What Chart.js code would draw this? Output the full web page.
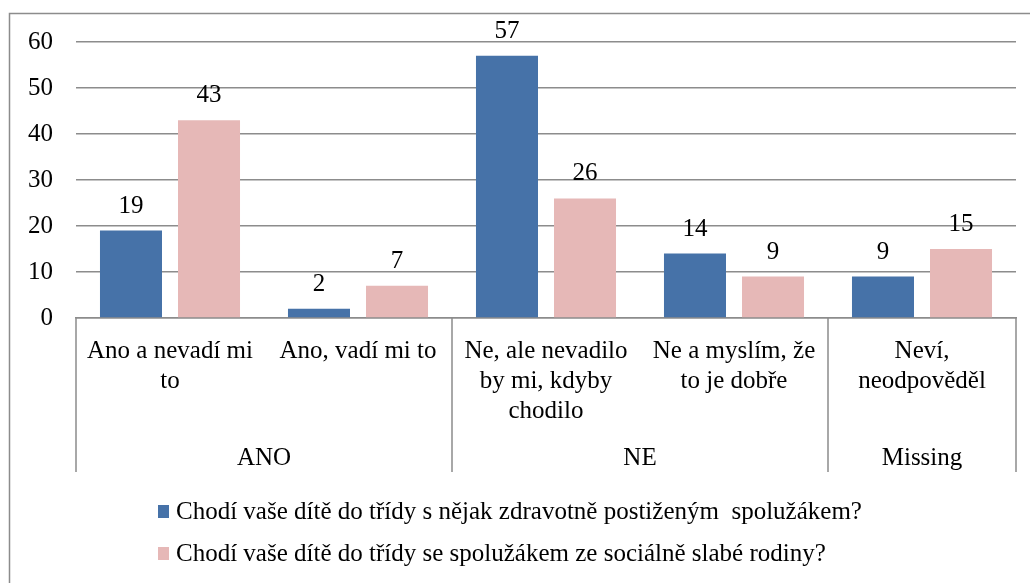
<!DOCTYPE html>
<html lang="cs">
<head>
<meta charset="utf-8">
<script src="https://cdn.jsdelivr.net/npm/chart.js@4"></script>
<style>
  html, body { margin: 0; padding: 0; background: #fff; }
  #wrap { width: 1030px; height: 583px; }
</style>
</head>
<body>
<div id="wrap"><canvas id="chart" width="1030" height="583"></canvas></div>
<script>
    /* ── Data ─────────────────────────────────────────── */
    const categories = [
        ['Ano a nevadí mi', 'to'],
        ['Ano, vadí mi to'],
        ['Ne, ale nevadilo', 'by mi, kdyby', 'chodilo'],
        ['Ne a myslím, že', 'to je dobře'],
        ['Neví,', 'neodpověděl']
    ];
    const groups      = ['ANO', 'NE', 'Missing'];
    const groupSizes  = [2, 2, 1];
    const seriesNames = [
        'Chodí vaše dítě do třídy s nějak zdravotně postiženým  spolužákem?',
        'Chodí vaše dítě do třídy se spolužákem ze sociálně slabé rodiny?'
    ];
    const healthValues = [19, 2, 57, 14, 9];
    const socialValues = [43, 7, 26, 9, 15];
    const yTicks       = [0, 10, 20, 30, 40, 50, 60];

    const FONT   = '"Liberation Serif", "Times New Roman", Tinos, "DejaVu Serif", serif';
    const FSIZE  = 25;
    const BLUE   = '#4672a8';
    const PINK   = '#e6b8b7';
    const LINE   = '#8c8c8c';

    /* ── Extra drawing: frame, value labels, group axis, legend ── */
    const extras = {
        id: 'extras',
        beforeDraw(chart) {
            const ctx = chart.ctx;
            ctx.save();
            ctx.strokeStyle = LINE;
            ctx.lineWidth = 1.5;
            ctx.beginPath();
            ctx.moveTo(9.5, chart.height);
            ctx.lineTo(9.5, 13.5);
            ctx.lineTo(chart.width, 13.5);
            ctx.stroke();
            ctx.restore();
        },
        afterDatasetsDraw(chart) {
            const ctx = chart.ctx;
            ctx.save();
            ctx.font = FSIZE + 'px ' + FONT;
            ctx.fillStyle = '#000';
            ctx.textAlign = 'center';
            ctx.textBaseline = 'bottom';
            chart.data.datasets.forEach((ds, i) => {
                chart.getDatasetMeta(i).data.forEach((bar, j) => {
                    ctx.fillText(String(ds.data[j]), bar.x, bar.y - 12);
                });
            });
            ctx.restore();
        },
        afterDraw(chart) {
            const ctx = chart.ctx;
            const x = chart.scales.x;
            ctx.save();

            // group separators + group names
            const edges = [x.left];
            let k = 0;
            groupSizes.forEach((n, gi) => {
                k += n;
                if (gi < groupSizes.length - 1) {
                    edges.push((x.getPixelForValue(k - 1) + x.getPixelForValue(k)) / 2);
                }
            });
            edges.push(x.right);

            ctx.strokeStyle = LINE;
            ctx.lineWidth = 1.5;
            ctx.beginPath();
            edges.forEach(e => {
                ctx.moveTo(e, x.top);
                ctx.lineTo(e, x.bottom);
            });
            ctx.stroke();

            ctx.font = FSIZE + 'px ' + FONT;
            ctx.fillStyle = '#000';
            ctx.textAlign = 'center';
            ctx.textBaseline = 'middle';
            groups.forEach((g, gi) => {
                ctx.fillText(g, (edges[gi] + edges[gi + 1]) / 2, x.bottom - 14);
            });

            // legend
            ctx.textAlign = 'left';
            const legendTop = x.bottom;
            chart.data.datasets.forEach((ds, i) => {
                const cy = legendTop + 40 + i * 42;
                ctx.fillStyle = ds.backgroundColor;
                ctx.fillRect(158, cy - 7, 11, 13);
                ctx.fillStyle = '#000';
                ctx.fillText(ds.label, 176, cy);
            });
            ctx.restore();
        }
    };

    new Chart(document.getElementById('chart'), {
        type: 'bar',
        data: {
            labels: categories,
            datasets: [
                { label: seriesNames[0], data: healthValues, backgroundColor: BLUE },
                { label: seriesNames[1], data: socialValues, backgroundColor: PINK }
            ]
        },
        options: {
            responsive: false,
            animation: false,
            devicePixelRatio: 1,
            categoryPercentage: 0.83,
            barPercentage: 0.795,
            layout: { padding: { top: 42, right: 14, bottom: 111, left: 0 } },
            plugins: {
                legend: { display: false },
                tooltip: { enabled: false }
            },
            scales: {
                x: {
                    grid: { display: false },
                    border: { display: true, color: LINE, width: 1.5 },
                    ticks: {
                        color: '#000',
                        font: { family: FONT, size: FSIZE, lineHeight: 1.2 },
                        padding: 10,
                        autoSkip: false,
                        maxRotation: 0
                    },
                    afterFit(scale) { scale.height = 154; }
                },
                y: {
                    min: 0,
                    max: 60,
                    afterBuildTicks(scale) { scale.ticks = yTicks.map(v => ({ value: v })); },
                    grid: { color: LINE, lineWidth: 1.5, drawTicks: false },
                    border: { display: false },
                    ticks: {
                        color: '#000',
                        font: { family: FONT, size: FSIZE },
                        padding: 23
                    },
                    afterFit(scale) { scale.width = 76; }
                }
            }
        },
        plugins: [extras]
    });
</script>
</body>
</html>
